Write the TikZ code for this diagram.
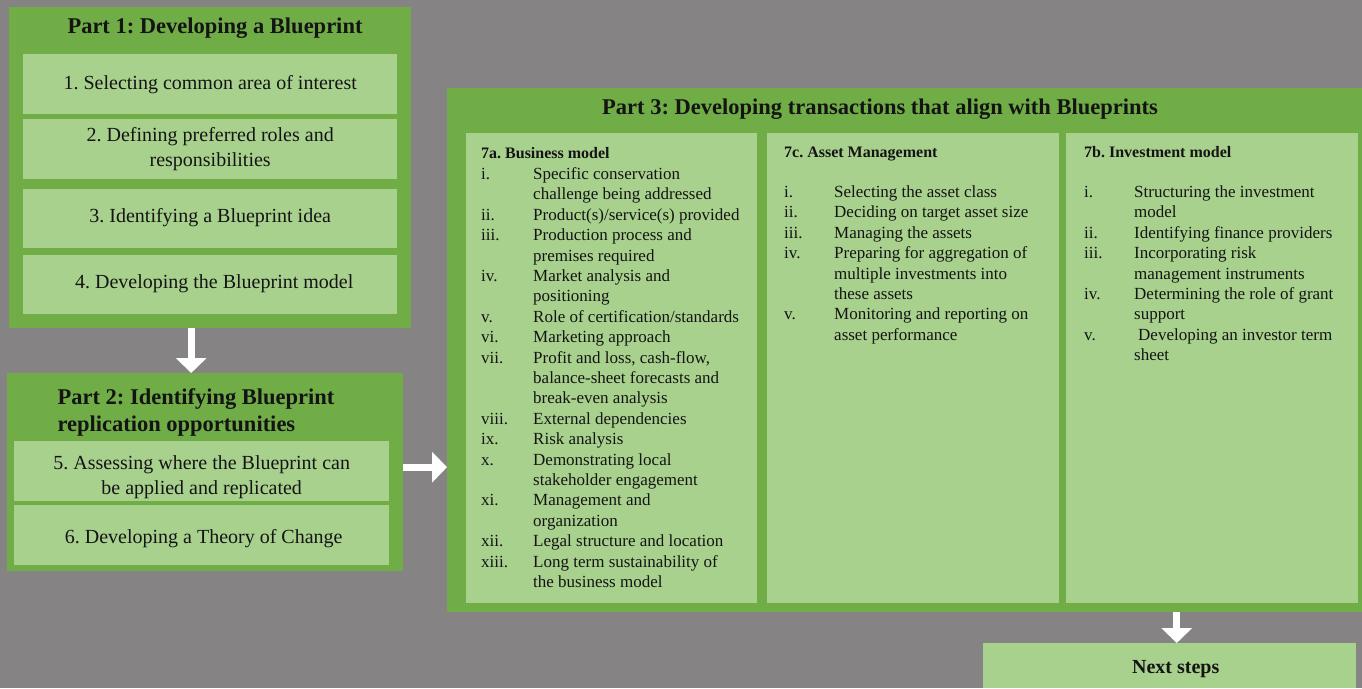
\documentclass[tikz,border=0pt]{standalone}
\usepackage{fontspec}
\setmainfont{Liberation Serif}
\usepackage{xcolor}
\usepackage{tikz}
\usetikzlibrary{calc,arrows.meta}
\frenchspacing
\definecolor{backgray}{HTML}{858384}
\definecolor{partgreen}{HTML}{70AD47}
\definecolor{stepgreen}{HTML}{A9D18E}
\definecolor{ink}{HTML}{141414}
\tikzset{
  partbox/.style={fill=partgreen, anchor=north west, inner sep=0pt},
  stepbox/.style={fill=stepgreen, anchor=north west, inner sep=0pt},
  steptext/.style={align=center, inner sep=0pt, text=ink, font=\fontsize{20}{25}\selectfont},
  colbox/.style={fill=stepgreen, anchor=north west, inner sep=0pt},
  parttitle/.style={text=ink, font=\bfseries\fontsize{22.5}{27}\selectfont},
  listtext/.style={anchor=north west, inner sep=0pt, text=ink, font=\fontsize{17}{20.4}\selectfont},
  flow/.style={draw=white, line width=7pt, -{Triangle[width=30pt,length=15pt]}}
}
\newcommand{\colhead}[1]{\multicolumn{2}{@{}l@{}}{\bfseries\fontsize{16}{20.4}\selectfont #1}}

\begin{document}
\begin{tikzpicture}[x=1pt, y=-1pt]
  \useasboundingbox (0,0) rectangle (1362,688);
  \fill[backgray] (0,0) rectangle (1362,688);

  \node[partbox, minimum width=402pt, minimum height=321pt] (p1) at (9,7) {};
  \node[partbox, minimum width=396pt, minimum height=198pt] (p2) at (7,373) {};
  \node[partbox, minimum width=915pt, minimum height=524pt] (p3) at (447,88) {};

  \node[parttitle] (t1) at (215,28) {Part 1: Developing a Blueprint};
  \node[parttitle, anchor=west, align=left] (t2) at (54,412.5) {Part 2: Identifying Blueprint\\replication opportunities};
  \node[parttitle] (t3) at (880,109) {Part 3: Developing transactions that align with Blueprints};

  \node[stepbox, minimum width=374pt, minimum height=60pt] (s1) at (23,54) {};
  \node[stepbox, minimum width=374pt, minimum height=60pt] (s2) at (23,119) {};
  \node[stepbox, minimum width=374pt, minimum height=59pt] (s3) at (23,189) {};
  \node[stepbox, minimum width=374pt, minimum height=59pt] (s4) at (23,255) {};
  \node[stepbox, minimum width=375pt, minimum height=60pt] (s5) at (14,441) {};
  \node[stepbox, minimum width=375pt, minimum height=60pt] (s6) at (14,505) {};

  \node[steptext] (s1t) at (s1) {1. Selecting common area of interest};
  \node[steptext] (s2t) at (s2) {2. Defining preferred roles and\\responsibilities};
  \node[steptext, yshift=1pt] (s3t) at (s3) {3. Identifying a Blueprint idea};
  \node[steptext, xshift=4pt, yshift=1pt] (s4t) at (s4) {4. Developing the Blueprint model};
  \node[steptext, yshift=-6pt] (s5t) at (s5) {5. Assessing where the Blueprint can\\be applied and replicated};
  \node[steptext, xshift=2pt, yshift=-3pt] (s6t) at (s6) {6. Developing a Theory of Change};

  \node[colbox, minimum width=291pt, minimum height=470pt] (c1) at (466,133) {};
  \node[colbox, minimum width=292pt, minimum height=470pt] (c2) at (767,133) {};
  \node[colbox, minimum width=292pt, minimum height=470pt] (c3) at (1066,133) {};

  \node[listtext] (l1) at (481,144) {%
    \begin{tabular}{@{}p{52pt}@{}l@{}}
      \colhead{7a. Business model}\\[0.6pt]
      i.    & Specific conservation\\
            & challenge being addressed\\
      ii.   & Product(s)/service(s) provided\\
      iii.  & Production process and\\
            & premises required\\
      iv.   & Market analysis and\\
            & positioning\\
      v.    & Role of certification/standards\\
      vi.   & Marketing approach\\
      vii.  & Profit and loss, cash-flow,\\
            & balance-sheet forecasts and\\
            & break-even analysis\\
      viii. & External dependencies\\
      ix.   & Risk analysis\\
      x.    & Demonstrating local\\
            & stakeholder engagement\\
      xi.   & Management and\\
            & organization\\
      xii.  & Legal structure and location\\
      xiii. & Long term sustainability of\\
            & the business model
    \end{tabular}};
  \node[listtext] (l2) at (784,143) {%
    \begin{tabular}{@{}p{50pt}@{}l@{}}
      \colhead{7c. Asset Management}\\[19.6pt]
      i.    & Selecting the asset class\\
      ii.   & Deciding on target asset size\\
      iii.  & Managing the assets\\
      iv.   & Preparing for aggregation of\\
            & multiple investments into\\
            & these assets\\
      v.    & Monitoring and reporting on\\
            & asset performance
    \end{tabular}};
  \node[listtext] (l3) at (1084,143) {%
    \begin{tabular}{@{}p{50pt}@{}l@{}}
      \colhead{7b. Investment model}\\[19.6pt]
      i.    & Structuring the investment\\
            & model\\
      ii.   & Identifying finance providers\\
      iii.  & Incorporating risk\\
            & management instruments\\
      iv.   & Determining the role of grant\\
            & support\\
      v.    & \hspace{4pt}Developing an investor term\\
            & sheet
    \end{tabular}};

  \node[colbox, minimum width=373pt, minimum height=45pt] (next) at (983,643) {};
  \node[text=ink, font=\bfseries\fontsize{20}{24}\selectfont, yshift=-3pt, xshift=6pt] (nextt) at (next) {Next steps};

  \draw[flow] ([xshift=-19pt]p1.south) -- ([xshift=-14pt]p2.north);
  \draw[flow] ([yshift=5pt]p2.east) -- ([yshift=5pt]p2.east -| p3.west);
  \draw[flow] ([xshift=7pt]next.north |- p3.south) -- ([xshift=7pt]next.north);
\end{tikzpicture}
\end{document}
